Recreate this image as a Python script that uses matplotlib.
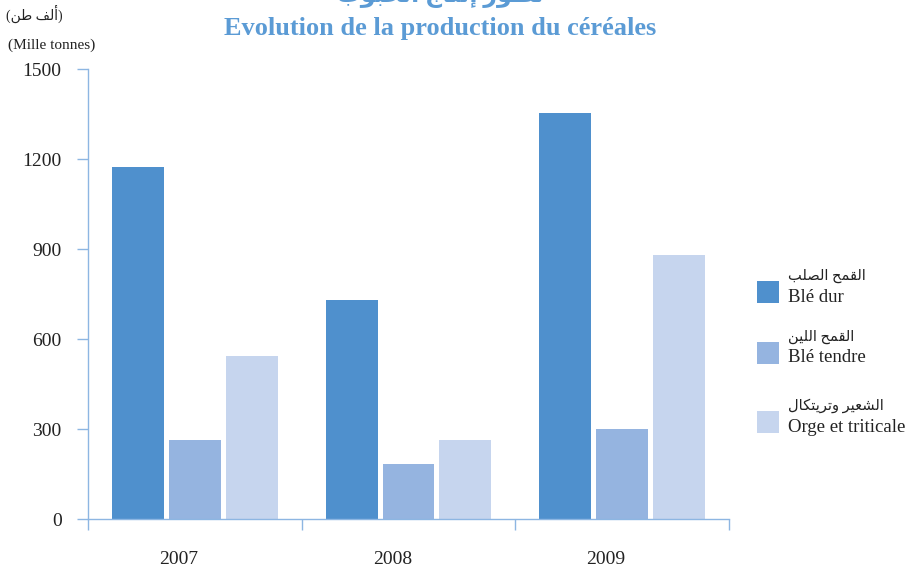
import matplotlib
matplotlib.use("Agg")
import matplotlib.pyplot as plt
import matplotlib.transforms as mtransforms
import numpy as np
from matplotlib.patches import Rectangle

# ---- data ----
years = ["2007", "2008", "2009"]
ble_dur = [1175, 730, 1355]
ble_tendre = [265, 185, 300]
orge = [545, 265, 880]

series_fr = ["Blé dur", "Blé tendre", "Orge et triticale"]
# Arabic labels, written in presentation forms / visual order (no shaping engine)
series_ar = [
    "\uFE90\uFEE0\uFEBC\uFEDF\uFE8D \uFEA2\uFEE4\uFED8\uFEDF\uFE8D",           # القمح الصلب
    "\uFEE6\uFEF4\uFEE0\uFEDF\uFE8D \uFEA2\uFEE4\uFED8\uFEDF\uFE8D",           # القمح اللين
    "\uFEDD\uFE8E\uFEDC\uFE98\uFEF3\uFEAE\uFE97\uFEED \uFEAE\uFEF4\uFECC\uFEB8\uFEDF\uFE8D",  # الشعير وتريتكال
]
title_fr = "Evolution de la production du céréales"
title_ar = "\uFE8F\uFEEE\uFE92\uFEA4\uFEDF\uFE8D \uFE9D\uFE8E\uFE98\uFEE7\uFE87 \uFEAD\uFEEE\uFEC4\uFE97"  # تطور إنتاج الحبوب
unit_ar = "(\uFEE6\uFEC3 \uFED2\uFEDF\uFE83)"  # (ألف طن)
unit_fr = "(Mille tonnes)"

colors = ["#4F90CD", "#95B4E0", "#C6D5EE"]
axis_col = "#8DB6E2"
title_col = "#5B9BD5"
mixed = ["Liberation Serif", "DejaVu Sans"]

plt.rcParams["font.family"] = ["Liberation Serif", "DejaVu Sans"]

W, H = 918, 572
fig = plt.figure(figsize=(W / 100, H / 100), dpi=100)


def fx(x):
    return x / W


def fy(y):
    return 1 - y / H


ax = fig.add_axes([fx(88), fy(519), (729 - 88) / W, (519 - 69) / H])

x = np.arange(len(years))
bw = 52 / 214
step = 57 / 214
for i, vals in enumerate([ble_dur, ble_tendre, orge]):
    ax.bar(x + (i - 1) * step, vals, width=bw, color=colors[i], linewidth=0)

ax.set_xlim(-0.5, 2.5)
ax.set_ylim(0, 1500)
ax.set_yticks(range(0, 1501, 300))
ax.tick_params(axis="y", length=8, width=1, color=axis_col, pad=11,
               labelsize=14, labelcolor="#222222")

ax.set_xticks([-0.5, 0.5, 1.5, 2.5])
ax.set_xticklabels([])
ax.tick_params(axis="x", which="major", length=8, width=1, color=axis_col)
ax.set_xticks(x, minor=True)
ax.set_xticklabels(years, minor=True)
ax.tick_params(axis="x", which="minor", length=0, pad=23,
               labelsize=14, labelcolor="#222222")
# year labels sit a little left of the group centres in the original
shift = mtransforms.ScaledTranslation(-16 / 100, 0, fig.dpi_scale_trans)
for lab in ax.get_xticklabels(minor=True):
    lab.set_transform(lab.get_transform() + shift)

for s in ["top", "right"]:
    ax.spines[s].set_visible(False)
for s in ["left", "bottom"]:
    ax.spines[s].set_color(axis_col)
    ax.spines[s].set_linewidth(1)

# titles (Arabic line is cut by the top edge in the original)
fig.text(fx(440), fy(-4), title_ar, ha="center", va="center",
         fontsize=17, fontweight="bold", color=title_col, family=mixed)
fig.text(fx(440), fy(28), title_fr, ha="center", va="center",
         fontsize=19, fontweight="bold", color=title_col)

fig.text(fx(34), fy(14), unit_ar, ha="center", va="center",
         fontsize=10, color="#222222", family=mixed)
fig.text(fx(52), fy(45), unit_fr, ha="center", va="center",
         fontsize=11, color="#222222")

# legend drawn by hand: square + Arabic line + French line
leg_tops = [281, 342, 411]
for i, top in enumerate(leg_tops):
    fig.add_artist(Rectangle((fx(757), fy(top + 22)), 22 / W, 22 / H,
                             transform=fig.transFigure, color=colors[i], lw=0))
    fig.text(fx(788), fy(top - 5), series_ar[i], ha="left", va="center",
             fontsize=10.5, color="#222222", family=mixed)
    fig.text(fx(788), fy(top + 16), series_fr[i], ha="left", va="center",
             fontsize=13.5, color="#222222")

fig.savefig("out.png", dpi=100)
